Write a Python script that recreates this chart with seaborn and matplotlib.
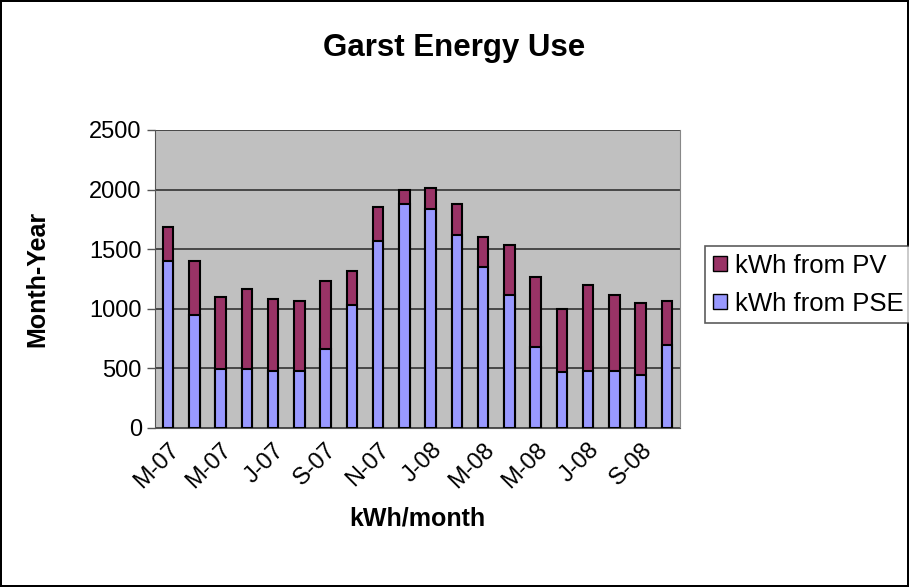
import pandas as pd
import matplotlib
matplotlib.use("Agg")
import matplotlib.pyplot as plt
import seaborn as sns
from matplotlib.patches import Patch

months = ["Mar-07", "Apr-07", "May-07", "Jun-07", "Jul-07", "Aug-07", "Sep-07", "Oct-07",
          "Nov-07", "Dec-07", "Jan-08", "Feb-08", "Mar-08", "Apr-08", "May-08", "Jun-08",
          "Jul-08", "Aug-08", "Sep-08", "Oct-08"]
tick_labels = ["M-07", "M-07", "J-07", "S-07", "N-07", "J-08", "M-08", "M-08", "J-08", "S-08"]
kwh_pse = [1400, 950, 497, 497, 480, 480, 662, 1030, 1565, 1880,
           1835, 1615, 1348, 1115, 682, 467, 480, 480, 448, 698]
kwh_pv = [285, 450, 603, 670, 603, 587, 573, 287, 287, 120,
          182, 267, 250, 420, 583, 533, 717, 635, 600, 367]

df = pd.DataFrame({"month": months, "pse": kwh_pse, "pv": kwh_pv})
df["total"] = df["pse"] + df["pv"]

pv_color = "#993366"
pse_color = "#9999FF"

sns.set_style("white")
plt.rcParams["font.family"] = ["Liberation Sans", "DejaVu Sans"]
plt.rcParams["text.color"] = "black"
plt.rcParams["axes.labelcolor"] = "black"
plt.rcParams["xtick.labelcolor"] = "black"
plt.rcParams["ytick.labelcolor"] = "black"

fig = plt.figure(figsize=(9.09, 5.87), dpi=100)
fig.patch.set_edgecolor("black")
fig.patch.set_linewidth(1.5)
ax = fig.add_axes([0.1705, 0.2709, 0.5776, 0.5077])
ax.set_facecolor("#C0C0C0")

sns.barplot(data=df, x="month", y="total", color=pv_color, width=0.4,
            edgecolor="black", linewidth=1.5, saturation=1, ax=ax, zorder=3)
sns.barplot(data=df, x="month", y="pse", color=pse_color, width=0.4,
            edgecolor="black", linewidth=1.5, saturation=1, ax=ax, zorder=4)

ax.set_xlim(-0.5, len(months) - 0.5)
ax.set_ylim(0, 2500)
ax.set_yticks(range(0, 2501, 500))
ax.yaxis.grid(True, color="#333333", linewidth=1.2, zorder=1)
ax.set_axisbelow(True)

ax.set_xticks(range(0, len(months), 2))
ax.set_xticklabels(tick_labels, rotation=45, ha="right", rotation_mode="anchor", fontsize=17)
ax.set_xticks([i - 0.5 for i in range(len(months) + 1)], minor=True)
ax.tick_params(axis="x", which="major", length=0, pad=8)
ax.tick_params(axis="x", which="minor", length=6, width=1, color="#555555", direction="out")
ax.tick_params(axis="y", length=6, width=1, color="#555555", direction="out", labelsize=17, left=True)

for side in ["top", "right", "left", "bottom"]:
    ax.spines[side].set_visible(False)
ax.spines["left"].set_visible(True)
ax.spines["bottom"].set_visible(True)
ax.spines["left"].set_color("#555555")
ax.spines["bottom"].set_color("#555555")
ax.spines["right"].set_visible(True)
ax.spines["right"].set_color("#888888")

ax.set_xlabel("kWh/month", fontsize=18, fontweight="bold", labelpad=10)
ax.set_ylabel("Month-Year", fontsize=18, fontweight="bold", labelpad=29)
fig.suptitle("Garst Energy Use", fontsize=22.5, fontweight="bold", y=0.943)

handles = [Patch(facecolor=pv_color, edgecolor="black", label="kWh from PV"),
           Patch(facecolor=pse_color, edgecolor="black", label="kWh from PSE")]
leg = fig.legend(handles=handles, loc="center left", bbox_to_anchor=(0.776, 0.515),
                 frameon=True, fancybox=False, fontsize=18.5, handlelength=0.55,
                 handleheight=0.55, handletextpad=0.3, borderpad=0.3, labelspacing=0.55,
                 borderaxespad=0)
leg.get_frame().set_edgecolor("#333333")
leg.get_frame().set_linewidth(1.2)

fig.savefig("out.png", dpi=100)
